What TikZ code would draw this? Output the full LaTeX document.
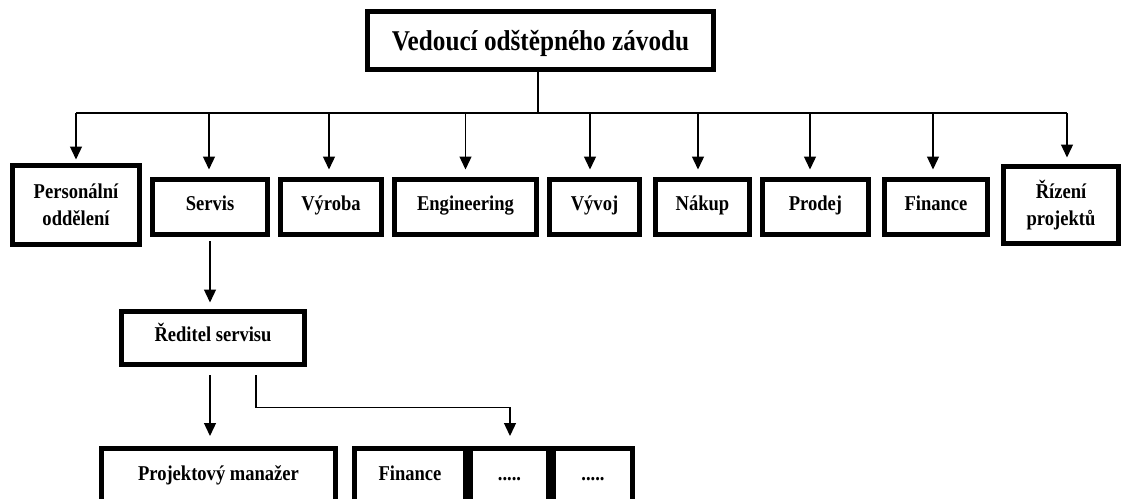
\documentclass[tikz,border=0pt]{standalone}
\usepackage{fontspec}
\setmainfont{Liberation Serif}[FakeStretch=0.88]
\usetikzlibrary{arrows.meta,calc}
\begin{document}
\begin{tikzpicture}[x=0.02cm,y=-0.02cm,
  box/.style={draw,line width=0.1cm,inner sep=0pt,align=center,
    font=\bfseries\fontsize{12}{15.5}\selectfont},
  one/.style={text height=0.3cm,text depth=0.14cm},
  conn/.style={line width=0.75pt},
  arr/.style={conn,-{Triangle[length=0.26cm,width=0.24cm]}}]
\useasboundingbox (0,0) rectangle (1123,499);
\clip (0,0) rectangle (1123,499);
% top
\node[box,minimum width=6.92cm,minimum height=1.16cm,text height=0.52cm,text depth=0.12cm,
  font=\bfseries\fontsize{16.3}{19}\selectfont] (top) at (540.5,40.5) {Vedoucí odštěpného závodu};
% second level
\node[box,minimum width=2.54cm,minimum height=1.58cm] (pers) at (76,205) {Personální\\oddělení};
\node[box,one,minimum width=2.30cm,minimum height=1.10cm] (servis) at (210,207) {Servis};
\node[box,one,minimum width=2.02cm,minimum height=1.10cm] (vyroba) at (331,207) {Výroba};
\node[box,one,minimum width=2.84cm,minimum height=1.10cm] (eng) at (465.5,207) {Engineering};
\node[box,one,minimum width=1.80cm,minimum height=1.10cm] (vyvoj) at (594.5,207) {Vývoj};
\node[box,one,minimum width=1.88cm,minimum height=1.10cm] (nakup) at (702.5,207) {Nákup};
\node[box,one,minimum width=2.12cm,minimum height=1.10cm] (prodej) at (815.5,207) {Prodej};
\node[box,one,minimum width=2.06cm,minimum height=1.10cm] (finance) at (936,207) {Finance};
\node[box,minimum width=2.30cm,minimum height=1.54cm] (rizeni) at (1061,205) {Řízení\\projektů};
% third level
\node[box,one,minimum width=3.66cm,minimum height=1.06cm] (reditel) at (213,338) {Ředitel servisu};
% fourth level
\node[box,one,minimum width=4.68cm,minimum height=1.14cm] (projekt) at (218.5,477) {Projektový manažer};
\node[box,one,minimum width=2.22cm,minimum height=1.14cm] (fin2) at (410,477) {Finance};
\node[box,one,minimum width=1.56cm,minimum height=1.14cm] (dots1) at (509.5,477) {.....};
\node[box,one,minimum width=1.58cm,minimum height=1.14cm] (dots2) at (593,477) {.....};
% connectors
\coordinate (bus) at (0,113);
\draw[conn] ($(top.south)+(-2.5,0)$) -- ($(top.south |- bus)+(-2.5,0)$);
\draw[conn] (pers.north |- bus) -- ($(rizeni.north |- bus)+(6,0)$);
\foreach \n/\dx/\g in {pers/0/3.5, servis/-1/7.5, vyroba/-2/7.5, eng/0/7.5, vyvoj/-4.5/7.5,
    nakup/-4.5/7.5, prodej/-5.5/7.5, finance/-3/7.5, rizeni/6/6.5}
  \draw[arr] ($(\n.north |- bus)+(\dx,0)$) -- ($(\n.north)+(\dx,-\g)$);
\draw[arr] ($(servis.south)+(0,4.5)$) -- ($(reditel.north -| servis.south)+(0,-6.5)$);
\draw[arr] ($(reditel.south)+(-3,8.5)$) -- ($(projekt.north)+(-8.5,-10)$);
\draw[arr] ($(reditel.south)+(43,8.5)$) |- ($(dots1.north)+(0.5,-38.5)$) -- ($(dots1.north)+(0.5,-10)$);
\end{tikzpicture}
\end{document}
